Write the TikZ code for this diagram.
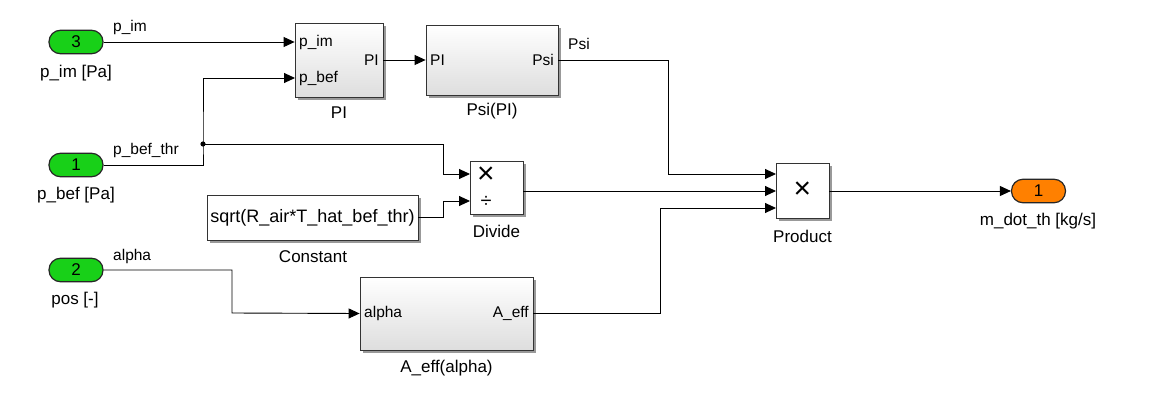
\documentclass[tikz,border=0pt]{standalone}
\usepackage{fontspec}
\setmainfont{Liberation Sans}
\usetikzlibrary{arrows.meta,shadows,calc}
\definecolor{simgreen}{RGB}{24,208,24}
\definecolor{simorange}{RGB}{255,128,0}
\begin{document}
\begin{tikzpicture}[x=1pt,y=-1pt,
  wire/.style={line width=0.9pt},
  sig/.style={wire,-{Triangle[length=11pt,width=10pt]}},
  shad/.style={drop shadow={shadow xshift=2.5pt,shadow yshift=-2.5pt,fill=black!40,opacity=1}},
  blk/.style={draw=black!80, line width=0.8pt, inner sep=0pt, top color=white, bottom color=black!13, shad},
  wblk/.style={draw=black!80, line width=0.8pt, inner sep=0pt, fill=white, shad},
  ioport/.style={draw=black!85, line width=1.2pt, rounded corners=11.5pt, minimum width=54pt, minimum height=23.5pt, inner sep=0pt, font=\fontsize{17}{17}\selectfont},
  bname/.style={inner sep=0pt, font=\fontsize{17}{18}\selectfont},
  plab/.style={inner sep=0pt, font=\fontsize{15.5}{16}\selectfont},
  sym/.style={inner sep=0pt, font=\fontsize{30}{30}\selectfont},
  dsym/.style={inner sep=0pt, font=\fontsize{20}{20}\selectfont}
]
\useasboundingbox (0,0) rectangle (1163,407);
% inports / outport
\node[ioport, fill=simgreen] (In3) at (76,42) {3};
\node[bname] (In3n) at (76,73) {p\_im [Pa]};
\node[ioport, fill=simgreen] (In1) at (76,165) {1};
\node[bname] (In1n) at (76,195) {p\_bef [Pa]};
\node[ioport, fill=simgreen] (In2) at (76,270) {2};
\node[bname] (In2n) at (75,300) {pos [-]};
\node[ioport, fill=simorange] (Out1) at (1038.5,191) {1};
\node[bname] (Out1n) at (1038,221) {m\_dot\_th [kg/s]};
% blocks
\node[blk, minimum width=88pt, minimum height=74pt] (PI) at (339,60) {};
\node[plab, anchor=west] (PIa) at (299,42) {p\_im};
\node[plab, anchor=west] (PIb) at (299,78) {p\_bef};
\node[plab, anchor=east] (PIc) at (379,60) {PI};
\node[bname] (PIn) at (339,113) {PI};
\node[blk, minimum width=132pt, minimum height=70pt] (Psi) at (492,60) {};
\node[plab, anchor=west] (Psia) at (430,60) {PI};
\node[plab, anchor=east] (Psib) at (554,60) {Psi};
\node[bname] (Psin) at (492,111) {Psi(PI)};
\node[wblk, minimum width=53pt, minimum height=53pt] (Div) at (496.5,187.5) {};
\node[sym] (Divx) at (486,175) {×};
\node[dsym] (Divd) at (486,202) {÷};
\node[bname] (Divn) at (496.5,231) {Divide};
\node[wblk, minimum width=211pt, minimum height=45pt, font=\fontsize{18}{18}\selectfont] (Const) at (312.5,217.5) {sqrt(R\_air*T\_hat\_bef\_thr)};
\node[bname] (Constn) at (313,257) {Constant};
\node[wblk, minimum width=53pt, minimum height=55pt] (Prod) at (802.5,190.5) {};
\node[sym] (Prodx) at (802.5,190.5) {×};
\node[bname] (Prodn) at (802.5,236) {Product};
\node[blk, minimum width=173pt, minimum height=73pt] (Aeff) at (446.5,313.5) {};
\node[plab, anchor=west] (Aeffa) at (364,313) {alpha};
\node[plab, anchor=east] (Aeffb) at (529,313) {A\_eff};
\node[bname] (Aeffn) at (446.5,368) {A\_eff(alpha)};
% port coordinates
\coordinate (PIin2) at (295,78);
\coordinate (DivIn1) at (470,174);
\coordinate (DivIn2) at (470,201);
\coordinate (ProdIn1) at (776,174);
\coordinate (ProdIn2) at (776,191);
\coordinate (ProdIn3) at (776,208);
\coordinate (J) at (203,144);
% wires
\draw[sig] (In3.east) -- (In3.east -| PI.west);
\node[plab, anchor=west] (Lpim) at (113,27) {p\_im};
\draw[sig] (In1.east) -| (J) |- (PIin2);
\node[plab, anchor=west] (Lpbef) at (113,150) {p\_bef\_thr};
\fill (J) circle (2.6pt);
\draw[sig] (J) -| (443,174) -- (DivIn1);
\draw[sig] (Const.east) -| (443,201) -- (DivIn2);
\draw[sig] (PI.east) -- (Psi.west);
\draw[sig] (Psi.east) -| (668,174) -- (ProdIn1);
\node[plab, anchor=west] (Lpsi) at (568,44) {Psi};
\draw[sig] (Div.east |- ProdIn2) -- (ProdIn2);
\draw[sig] (In2.east) -| (232,313) -- (Aeff.west);
\node[plab, anchor=west] (Lalpha) at (113,256) {alpha};
\draw[sig] (Aeff.east) -| (660,208) -- (ProdIn3);
\draw[sig] (Prod.east |- Out1.west) -- (Out1.west);
\end{tikzpicture}
\end{document}
